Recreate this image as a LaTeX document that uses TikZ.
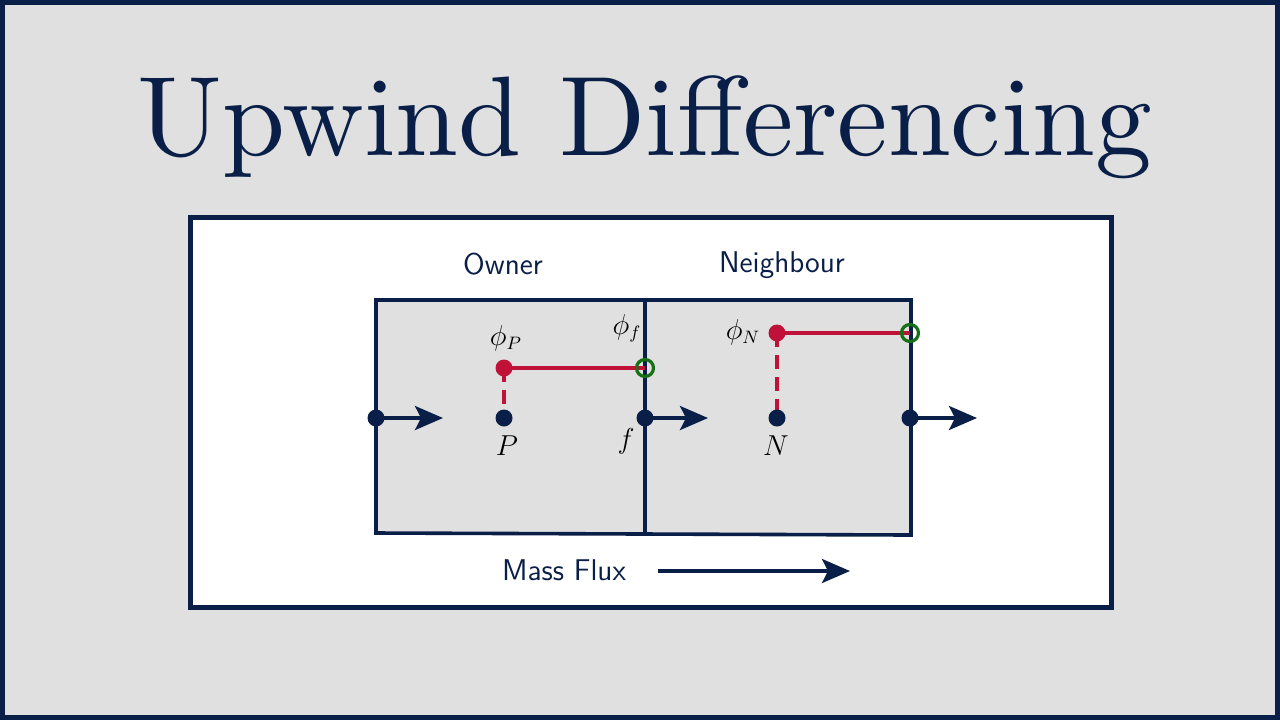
\documentclass[tikz,border=0pt]{standalone}
\usepackage{amsmath}
\usetikzlibrary{arrows.meta,positioning}
\definecolor{navy}{RGB}{10,31,72}
\definecolor{upred}{RGB}{192,18,56}
\definecolor{upgreen}{RGB}{22,112,22}
\definecolor{bggrey}{RGB}{224,224,224}
\font\titlefont="[lmroman10-regular]" at 56.6pt
\tikzset{
  dot/.style={circle,fill=navy,inner sep=0pt,minimum size=8.5pt},
  phidot/.style={circle,fill=upred,inner sep=0pt,minimum size=8.5pt},
  facering/.style={circle,draw=upgreen,line width=1.6pt,inner sep=0pt,minimum size=8.5pt},
  flux/.style={navy,line width=1.7pt,-{Stealth[length=14pt,width=12pt,inset=3pt]}},
  cell/.style={draw=navy,line width=1.8pt},
  profile/.style={upred,line width=1.9pt},
  lbl/.style={font=\fontsize{15}{18}\selectfont\sffamily,text=navy},
  mlbl/.style={font=\fontsize{13.5}{15}\selectfont,text=black}
}
\begin{document}
\begin{tikzpicture}[x=0.5pt,y=-0.5pt]
\useasboundingbox (0,0) rectangle (1280,720);
\fill[bggrey] (0,0) rectangle (1280,720);
\draw[navy,line width=2.5pt] (2.5,2.5) rectangle (1277.5,717.5);
\node[navy,anchor=base,font=\titlefont] (title) at (645,155) {Upwind Differencing};
\draw[navy,line width=2.5pt,fill=white] (190,217) rectangle (1111,607);
% cells
\fill[bggrey] (376,300) rectangle (911,534);
\draw[cell] (376,300) -- (911,300) -- (911,535) -- (376,533) -- cycle;
\draw[cell] (645,300) -- (645,534);
\node[lbl] (owner) at (503,264) {Owner};
\node[lbl] (neigh) at (782,265) {Neighbour};
% profile values
\draw[profile,dashed,dash pattern=on 7pt off 4pt] (504,368) -- (504,418);
\draw[profile,dashed,dash pattern=on 7pt off 4pt] (777,333) -- (777,418);
\draw[profile] (504,368) -- (645,368);
\draw[profile] (777,333) -- (910,333);
% points
\node[dot] (W) at (376,418) {};
\node[dot] (P) at (504,418) {};
\node[dot] (f) at (645,418) {};
\node[dot] (N) at (777,418) {};
\node[dot] (E) at (910,418) {};
\node[phidot] (phiP) at (504,368) {};
\node[phidot] (phiN) at (777,333) {};
\node[facering] (phif) at (645,368) {};
\node[facering] (phie) at (910,333) {};
\coordinate (Wtip) at (443,418);
\coordinate (ftip) at (708,418);
\coordinate (Etip) at (977,418);
\draw[flux] (W.center) -- (Wtip);
\draw[flux] (f.center) -- (ftip);
\draw[flux] (E.center) -- (Etip);
% labels
\node[mlbl] (lphiP) at (506,338) {$\phi_P$};
\node[mlbl] (lphif) at (627,328) {$\phi_f$};
\node[mlbl] (lphiN) at (743,332) {$\phi_N$};
\node[mlbl] (lP) at (507,446) {$P$};
\node[mlbl] (lf) at (626,441) {$f$};
\node[mlbl] (lN) at (776,446) {$N$};
% mass flux
\node[lbl] (mass) at (564,570) {Mass Flux};
\coordinate (ms) at (658,571);
\coordinate (me) at (850,571);
\draw[flux] (ms) -- (me);
\end{tikzpicture}
\end{document}
